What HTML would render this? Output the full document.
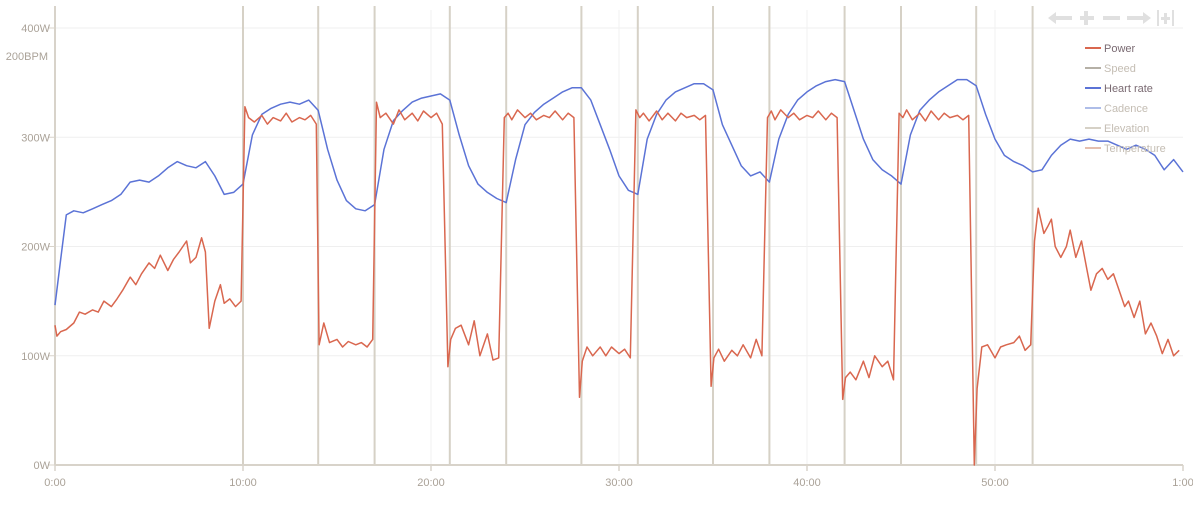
<!DOCTYPE html>
<html><head><meta charset="utf-8"><style>
html,body{margin:0;padding:0;background:#fff;}
body{width:1193px;height:502px;overflow:hidden;font-family:"Liberation Sans","DejaVu Sans",sans-serif;}
svg text{font-family:"Liberation Sans","DejaVu Sans",sans-serif;}
</style></head><body>
<svg id="chart" width="1193" height="502" viewBox="0 0 1193 502" xmlns="http://www.w3.org/2000/svg">
<g id="grid"></g>
<g id="markers"></g>
<g id="axes"></g>
<g id="series"></g>
<g id="legend"></g>
<g id="toolbar"></g>
</svg>
<script>
const powerTicks = [0, 100, 200, 300, 400];
const xTicks = [0, 10, 20, 30, 40, 50, 60];
const xTickLabels = ["0:00","10:00","20:00","30:00","40:00","50:00","1:00"];
const intervalMarks = [10,14,17,21,24,28,31,35,38,42,45,49,52];
const powerTimes = [0,0.1,0.3,0.6,1,1.3,1.6,2,2.3,2.6,3,3.3,3.6,4,4.3,4.6,5,5.3,5.6,6,6.3,6.6,7,7.2,7.5,7.8,8,8.2,8.5,8.8,9,9.3,9.6,9.9,
10.1,10.3,10.6,11,11.3,11.6,12,12.3,12.6,13,13.3,13.6,13.9,14.05,14.3,14.6,15,15.3,15.6,16,16.3,16.6,16.9,
17.1,17.3,17.6,18,18.3,18.6,19,19.3,19.6,20,20.3,20.6,20.9,21.05,21.3,21.6,22,22.3,22.6,23,23.3,23.6,23.9,
24.1,24.3,24.6,25,25.3,25.6,26,26.3,26.6,27,27.3,27.6,27.9,28.05,28.3,28.6,29,29.3,29.6,30,30.3,30.6,30.9,
31.1,31.3,31.6,32,32.3,32.6,33,33.3,33.6,34,34.3,34.6,34.9,35.05,35.3,35.6,36,36.3,36.6,37,37.3,37.6,37.9,
38.1,38.3,38.6,39,39.3,39.6,40,40.3,40.6,41,41.3,41.6,41.9,42.05,42.3,42.6,43,43.3,43.6,44,44.3,44.6,44.9,
45.1,45.3,45.6,46,46.3,46.6,47,47.3,47.6,48,48.3,48.6,48.9,49.05,49.3,49.6,50,50.3,50.6,51,51.3,51.6,51.9,
52.1,52.3,52.6,52.8,53,53.2,53.5,53.8,54,54.3,54.6,54.9,55.1,55.4,55.7,56,56.3,56.6,56.9,57.1,57.4,57.7,58,58.3,58.6,58.9,59.2,59.5,59.8,60];
const powerValues = [128,118,122,124,130,140,138,142,140,150,145,152,160,172,165,175,185,180,192,178,188,195,205,185,190,208,195,125,150,165,148,152,145,150,
328,318,314,320,312,318,315,322,314,318,316,320,312,110,130,112,115,108,113,110,112,108,115,
332,318,322,312,325,316,322,315,324,318,322,312,90,115,125,128,110,132,100,120,96,98,
318,322,316,325,318,322,316,320,318,324,316,322,318,62,95,108,100,108,100,108,102,106,98,
325,318,322,315,324,316,322,315,322,318,320,316,320,72,98,106,95,105,100,110,98,115,100,
318,324,316,325,318,322,316,320,318,324,316,322,318,60,80,85,78,95,80,100,90,95,78,
322,318,325,316,322,315,324,316,322,318,320,316,320,0,70,108,110,98,108,110,112,118,105,
110,205,235,212,218,225,200,190,200,215,190,205,178,160,175,180,170,175,160,145,150,135,150,120,130,118,102,115,100,105];
const hrTimes = [0,0.3,0.6,1,1.5,2,2.5,3,3.5,4,4.5,5,5.5,6,6.5,7,7.5,8,8.5,9,9.5,10,10.5,11,11.5,12,12.5,13,13.5,14,14.5,15,15.5,16,16.5,17,17.5,18,18.5,19,19.5,20,20.5,21,21.5,22,22.5,23,23.5,24,24.5,25,25.5,26,26.5,27,27.5,28,28.5,29,29.5,30,30.5,31,31.5,32,32.5,33,33.5,34,34.5,35,35.5,36,36.5,37,37.5,38,38.5,39,39.5,40,40.5,41,41.5,42,42.5,43,43.5,44,44.5,45,45.5,46,46.5,47,47.5,48,48.5,49,49.5,50,50.5,51,51.5,52,52.5,53,53.5,54,54.5,55,55.5,56,56.5,57,57.5,58,58.5,59,59.5,60];
const hrValues = [78,100,122,124,123,125,127,129,132,138,139,138,141,145,148,146,145,148,141,132,133,137,161,171,174,176,177,176,178,173,154,139,129,125,124,127,154,168,173,177,179,180,181,178,161,146,137,133,130,128,149,166,172,176,179,182,184,184,178,166,154,141,134,132,159,171,178,182,184,186,186,183,166,156,146,141,143,138,159,171,178,182,185,187,188,187,173,159,149,144,141,137,161,173,178,182,185,188,188,185,171,159,151,148,146,143,144,151,156,159,158,159,158,158,156,154,156,154,151,144,149,143];

const NS="http://www.w3.org/2000/svg";
const X0=55,X1=1183,Y0=465,Y400=28;
const xs=m=>X0+(X1-X0)*m/60;
const yP=w=>Y0-(Y0-Y400)*w/400;
const yH=b=>Y0-(Y0-55)*b/200;
function mk(tag,parent,attrs){const e=document.createElementNS(NS,tag);for(const k in attrs)e.setAttribute(k,attrs[k]);document.getElementById(parent).appendChild(e);return e;}

powerTicks.forEach(t=>{
  if(t>0){const g=mk('line','grid',{x1:X0,x2:X1,y1:yP(t),y2:yP(t),stroke:'#efefef','stroke-width':1});
  
  }
  const tk=mk('line','axes',{x1:X0-6,x2:X0,y1:yP(t),y2:yP(t),stroke:'#d8d3ca','stroke-width':1});
  
  
  const tx=mk('text','axes',{x:X0-5,y:yP(t)+4,'text-anchor':'end','font-size':11,fill:'#aaa298'});
  tx.textContent=t+'W';
  
  
});
xTicks.forEach((t,i)=>{
  if(t>0&&t<60){const g=mk('line','grid',{x1:xs(t),x2:xs(t),y1:10,y2:Y0,stroke:'#f2f2f2','stroke-width':1});
  
  }
  const tk=mk('line','axes',{x1:xs(t),x2:xs(t),y1:Y0,y2:Y0+6,stroke:'#d8d3ca','stroke-width':1.5});
  
  
  const tx=mk('text','axes',{x:xs(t),y:486,'text-anchor':'middle','font-size':11,fill:'#aaa298'});
  tx.textContent=xTickLabels[i];
  
  
});
const hrl=mk('text','axes',{x:48,y:60,'text-anchor':'end','font-size':11,fill:'#aaa298'});
hrl.textContent='200BPM';


intervalMarks.forEach(m=>{
  const l=mk('line','markers',{x1:xs(m),x2:xs(m),y1:6,y2:Y0,stroke:'#d6d1c6','stroke-width':2});
  
  
});
const ya=mk('line','axes',{x1:X0,x2:X0,y1:6,y2:Y0,stroke:'#d8d3ca','stroke-width':2});


const xa=mk('line','axes',{x1:X0,x2:X1,y1:Y0,y2:Y0,stroke:'#d8d3ca','stroke-width':2});



const hp=mk('polyline','series',{points:hrTimes.map((t,i)=>xs(t).toFixed(1)+','+yH(hrValues[i]).toFixed(1)).join(' '),fill:'none',stroke:'#5b73d6','stroke-width':1.5,'stroke-linejoin':'round'});


const pp=mk('polyline','series',{points:powerTimes.map((t,i)=>xs(t).toFixed(1)+','+yP(powerValues[i]).toFixed(1)).join(' '),fill:'none',stroke:'#d9674f','stroke-width':1.5,'stroke-linejoin':'round'});



const legendItems=[["Power","#d9674f","#7a6a72"],["Speed","#b5b0a6","#c4bdb3"],["Heart rate","#5b73d6","#7a6a72"],["Cadence","#aebde8","#c4bdb3"],["Elevation","#d6d1c6","#c4bdb3"],["Temperature","#e5bfae","#c4bdb3"]];
legendItems.forEach((it,i)=>{
  const y=48+i*20;
  const l=mk('line','legend',{x1:1085,x2:1101,y1:y,y2:y,stroke:it[1],'stroke-width':2});
  
  
  const t=mk('text','legend',{x:1104,y:y+4,'font-size':11,fill:it[2]});
  t.textContent=it[0];
  
  
});
const tb=[["M1048 18 L1056 12 L1056 16 L1072 16 L1072 20 L1056 20 L1056 24 Z","pan-left-button"],
["M1080 16 L1084 16 L1084 11 L1088 11 L1088 16 L1094 16 L1094 20 L1088 20 L1088 25 L1084 25 L1084 20 L1080 20 Z","zoom-in-button"],
["M1103 16 L1120 16 L1120 20 L1103 20 Z","zoom-out-button"],
["M1127 16 L1143 16 L1143 12 L1151 18 L1143 24 L1143 20 L1127 20 Z","pan-right-button"],
["M1157 10 L1159 10 L1159 26 L1157 26 Z M1172 10 L1174 10 L1174 26 L1172 26 Z M1161 17 L1164 17 L1164 13 L1167 13 L1167 17 L1170 17 L1170 20 L1167 20 L1167 24 L1164 24 L1164 20 L1161 20 Z","zoom-reset-button"]];
tb.forEach(b=>{
  const p=mk('path','toolbar',{d:b[0],fill:'#e0e0e0'});
  
  
});
</script>
</body></html>
